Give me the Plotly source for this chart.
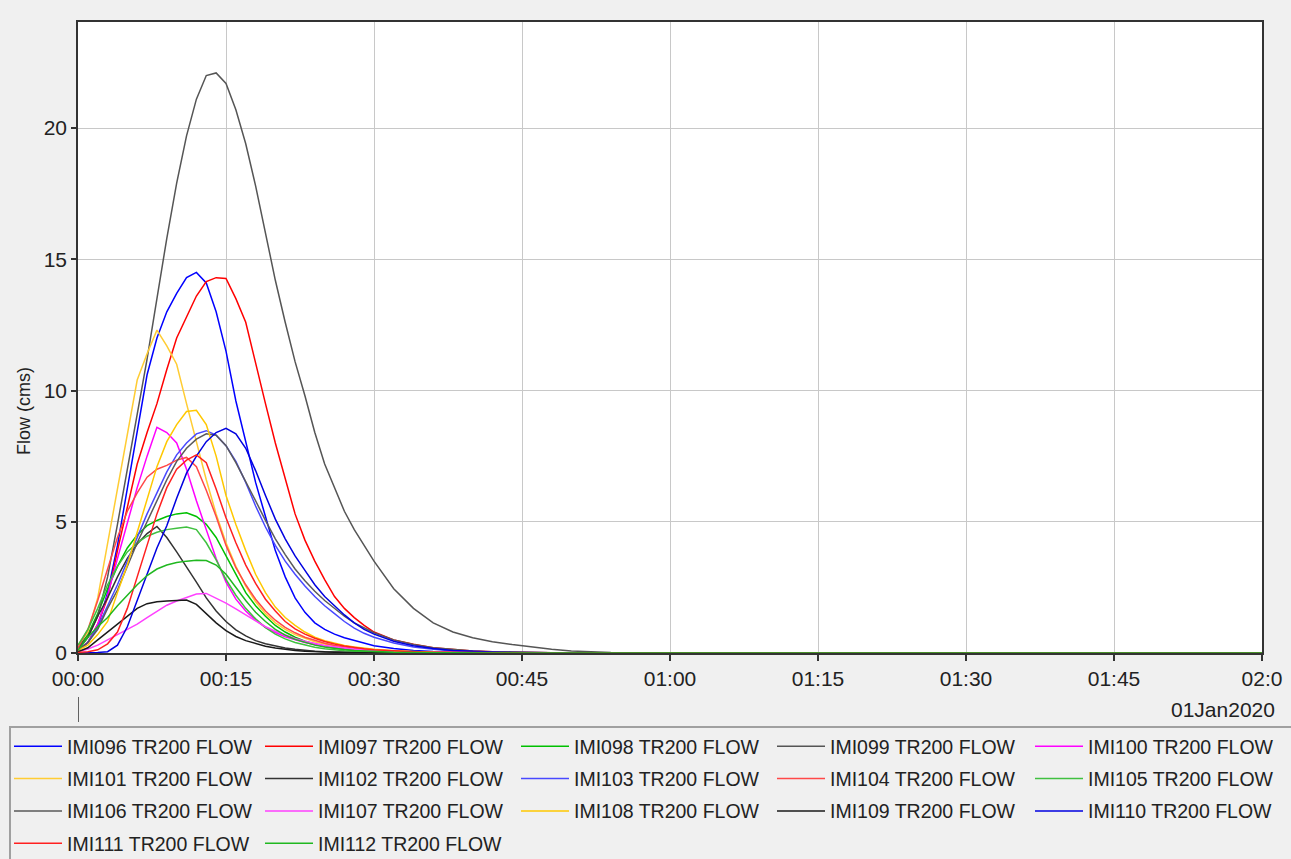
import plotly.graph_objects as go

# time in minutes after 00:00 on 01Jan2020
minutes = list(range(0, 31)) + list(range(32, 61, 2)) + [120]

tick_vals = [0, 15, 30, 45, 60, 75, 90, 105, 120]
tick_text = ["00:00", "00:15", "00:30", "00:45", "01:00", "01:15", "01:30", "01:45", "02:0"]

names = ["IMI096 TR200 FLOW", "IMI097 TR200 FLOW", "IMI098 TR200 FLOW", "IMI099 TR200 FLOW",
         "IMI100 TR200 FLOW", "IMI101 TR200 FLOW", "IMI102 TR200 FLOW", "IMI103 TR200 FLOW",
         "IMI104 TR200 FLOW", "IMI105 TR200 FLOW", "IMI106 TR200 FLOW", "IMI107 TR200 FLOW",
         "IMI108 TR200 FLOW", "IMI109 TR200 FLOW", "IMI110 TR200 FLOW", "IMI111 TR200 FLOW",
         "IMI112 TR200 FLOW"]

colors = ["#0000ff", "#ff0000", "#00c000", "#555555", "#ff00ff", "#ffcc33", "#333333", "#4848ff",
          "#ff4848", "#40c040", "#5a5a5a", "#ff40ff", "#ffc800", "#1a1a1a", "#0000e0", "#ff2020",
          "#20b820"]

imi096 = [0.1, 0.4, 1.0, 2.3, 4.1, 6.3, 8.5, 10.6, 12.0, 13.0, 13.7, 14.3, 14.5, 14.1, 13.0, 11.5,
          9.6, 8.0, 6.5, 5.2, 3.9, 2.9, 2.1, 1.55, 1.15, 0.9, 0.72, 0.58, 0.47, 0.37, 0.28,
          0.17, 0.1, 0.06, 0.04, 0.02, 0.01, 0, 0, 0, 0, 0, 0, 0, 0, 0, 0]
imi097 = [0.1, 0.4, 1.1, 2.1, 3.9, 5.6, 7.2, 8.4, 9.5, 10.8, 12.0, 12.8, 13.6, 14.15, 14.3, 14.27,
          13.5, 12.6, 11.0, 9.5, 8.0, 6.6, 5.3, 4.3, 3.5, 2.8, 2.15, 1.7, 1.35, 1.05, 0.8,
          0.5, 0.33, 0.2, 0.13, 0.08, 0.05, 0.03, 0.02, 0.01, 0, 0, 0, 0, 0, 0, 0]
imi098 = [0.2, 0.7, 1.5, 2.45, 3.3, 4.0, 4.5, 4.85, 5.05, 5.2, 5.3, 5.34, 5.2, 4.9, 4.4, 3.7,
          2.95, 2.3, 1.8, 1.4, 1.05, 0.8, 0.6, 0.45, 0.34, 0.25, 0.19, 0.14, 0.1, 0.08, 0.06,
          0.03, 0.02, 0.01, 0, 0, 0, 0, 0, 0, 0, 0, 0, 0, 0, 0, 0]
imi099 = [0.2, 0.6, 1.4, 2.9, 4.9, 7.0, 9.05, 11.2, 13.5, 15.8, 17.9, 19.7, 21.1, 22.0, 22.1, 21.7,
          20.7, 19.4, 17.8, 16.0, 14.2, 12.6, 11.1, 9.8, 8.4, 7.2, 6.3, 5.4, 4.7, 4.1, 3.5,
          2.45, 1.7, 1.15, 0.8, 0.58, 0.43, 0.32, 0.22, 0.14, 0.08, 0.04, 0.02, 0.01, 0, 0, 0]
imi100 = [0.1, 0.4, 1.1, 2.2, 3.6, 5.0, 6.3, 7.5, 8.6, 8.4, 8.0, 7.0, 5.8, 4.7, 3.6, 2.7,
          2.05, 1.6, 1.25, 0.98, 0.78, 0.62, 0.5, 0.4, 0.32, 0.26, 0.21, 0.17, 0.14, 0.11, 0.09,
          0.06, 0.04, 0.02, 0.01, 0, 0, 0, 0, 0, 0, 0, 0, 0, 0, 0, 0]
imi101 = [0.3, 0.8, 2.1, 4.2, 6.3, 8.4, 10.4, 11.4, 12.3, 11.7, 11.0, 9.5, 8.0, 6.6, 5.3, 4.2,
          3.3, 2.55, 1.95, 1.5, 1.15, 0.9, 0.7, 0.55, 0.43, 0.34, 0.27, 0.21, 0.17, 0.13, 0.1,
          0.06, 0.04, 0.02, 0.01, 0, 0, 0, 0, 0, 0, 0, 0, 0, 0, 0, 0]
imi102 = [0.1, 0.6, 1.4, 2.1, 2.9, 3.6, 4.15, 4.55, 4.82, 4.4, 3.85, 3.3, 2.7, 2.1, 1.6, 1.2,
          0.88, 0.65, 0.47, 0.35, 0.26, 0.19, 0.14, 0.1, 0.07, 0.05, 0.04, 0.03, 0.02, 0.01, 0.01,
          0, 0, 0, 0, 0, 0, 0, 0, 0, 0, 0, 0, 0, 0, 0, 0]
imi103 = [0.1, 0.4, 1.0, 1.8, 2.6, 3.5, 4.4, 5.3, 6.1, 6.9, 7.55, 8.0, 8.35, 8.47, 8.3, 7.9,
          7.3, 6.5, 5.6, 4.8, 4.1, 3.5, 3.0, 2.55, 2.15, 1.8, 1.5, 1.2, 0.95, 0.75, 0.6,
          0.38, 0.23, 0.14, 0.08, 0.05, 0.03, 0.02, 0.01, 0, 0, 0, 0, 0, 0, 0, 0]
imi104 = [0.2, 0.9, 2.0, 3.2, 4.4, 5.4, 6.1, 6.7, 7.0, 7.15, 7.35, 7.45, 7.1, 6.2, 5.2, 4.1,
          3.25, 2.6, 2.05, 1.6, 1.25, 0.98, 0.77, 0.6, 0.47, 0.37, 0.29, 0.23, 0.18, 0.14, 0.11,
          0.07, 0.04, 0.02, 0.01, 0, 0, 0, 0, 0, 0, 0, 0, 0, 0, 0, 0]
imi105 = [0.3, 0.9, 1.7, 2.6, 3.3, 3.85, 4.2, 4.45, 4.6, 4.7, 4.75, 4.8, 4.7, 4.2, 3.55, 2.8,
          2.2, 1.7, 1.3, 0.97, 0.72, 0.54, 0.4, 0.3, 0.22, 0.16, 0.12, 0.09, 0.07, 0.05, 0.04,
          0.02, 0.01, 0, 0, 0, 0, 0, 0, 0, 0, 0, 0, 0, 0, 0, 0]
imi106 = [0.1, 0.4, 0.9, 1.7, 2.4, 3.3, 4.2, 5.0, 5.8, 6.6, 7.3, 7.8, 8.15, 8.35, 8.3, 7.9,
          7.25, 6.55, 5.8, 5.05, 4.35, 3.75, 3.2, 2.75, 2.35, 2.0, 1.7, 1.4, 1.15, 0.95, 0.77,
          0.5, 0.32, 0.2, 0.13, 0.08, 0.05, 0.03, 0.02, 0.01, 0, 0, 0, 0, 0, 0, 0]
imi107 = [0.05, 0.15, 0.3, 0.5, 0.68, 0.88, 1.1, 1.35, 1.6, 1.82, 1.98, 2.12, 2.25, 2.27, 2.1, 1.9,
          1.68, 1.45, 1.22, 1.0, 0.83, 0.68, 0.55, 0.45, 0.36, 0.29, 0.24, 0.19, 0.15, 0.12, 0.1,
          0.07, 0.05, 0.03, 0.02, 0.01, 0, 0, 0, 0, 0, 0, 0, 0, 0, 0, 0]
imi108 = [0.1, 0.3, 0.7, 1.2, 2.3, 3.35, 4.6, 5.9, 7.1, 8.05, 8.7, 9.2, 9.25, 8.7, 7.5, 6.0,
          4.9, 3.9, 3.0, 2.3, 1.75, 1.35, 1.05, 0.8, 0.6, 0.47, 0.37, 0.29, 0.23, 0.18, 0.14,
          0.09, 0.05, 0.03, 0.02, 0.01, 0, 0, 0, 0, 0, 0, 0, 0, 0, 0, 0]
imi109 = [0.05, 0.2, 0.5, 0.8, 1.1, 1.4, 1.7, 1.88, 1.95, 1.98, 2.0, 2.02, 1.85, 1.5, 1.15, 0.85,
          0.63, 0.47, 0.35, 0.26, 0.19, 0.14, 0.1, 0.07, 0.05, 0.04, 0.03, 0.02, 0.01, 0.01, 0,
          0, 0, 0, 0, 0, 0, 0, 0, 0, 0, 0, 0, 0, 0, 0, 0]
imi110 = [0, 0, 0.02, 0.05, 0.3, 1.0, 2.0, 3.0, 4.0, 4.85, 5.9, 6.85, 7.5, 8.05, 8.4, 8.56,
          8.35, 7.8, 6.95, 6.0, 5.1, 4.35, 3.7, 3.15, 2.6, 2.15, 1.8, 1.45, 1.15, 0.9, 0.72,
          0.45, 0.28, 0.17, 0.1, 0.06, 0.04, 0.02, 0.01, 0, 0, 0, 0, 0, 0, 0, 0]
imi111 = [0.02, 0.05, 0.12, 0.35, 0.8, 1.7, 2.9, 4.1, 5.3, 6.3, 7.0, 7.35, 7.55, 7.25, 6.25, 5.15,
          4.2, 3.35, 2.65, 2.05, 1.6, 1.2, 0.92, 0.72, 0.56, 0.44, 0.34, 0.27, 0.21, 0.16, 0.12,
          0.08, 0.05, 0.03, 0.02, 0.01, 0, 0, 0, 0, 0, 0, 0, 0, 0, 0, 0]
imi112 = [0.1, 0.6, 1.0, 1.35, 1.8, 2.2, 2.6, 2.95, 3.2, 3.35, 3.45, 3.5, 3.53, 3.52, 3.35, 3.0,
          2.5, 2.0, 1.55, 1.2, 0.9, 0.68, 0.52, 0.4, 0.3, 0.23, 0.17, 0.13, 0.1, 0.08, 0.06,
          0.03, 0.02, 0.01, 0, 0, 0, 0, 0, 0, 0, 0, 0, 0, 0, 0, 0]

series = [imi096, imi097, imi098, imi099, imi100, imi101, imi102, imi103, imi104, imi105,
          imi106, imi107, imi108, imi109, imi110, imi111, imi112]

FONT = "Liberation Sans, Arial, sans-serif"
TXT = "#222222"
W, H = 1291, 859
L, R, T, B = 78, 29, 22, 206
pw, ph = W - L - R, H - T - B

def px_to_xpaper(px):
    return (px - L) / pw

def py_to_ypaper(py):
    return (H - B - py) / ph

# legend columns (5 columns, filled row by row)
n_cols = 5
legend_ids = ["legend", "legend2", "legend3", "legend4", "legend5"]
col_line_start = [14, 265, 521, 777, 1035]

fig = go.Figure()
for i, (name, col, vals) in enumerate(zip(names, colors, series)):
    fig.add_trace(go.Scatter(x=minutes, y=vals, mode="lines", name=name,
                             legend=legend_ids[i % n_cols], legendgroup=name,
                             line=dict(color=col, width=1.5)))

legend_style = dict(
    orientation="v", xref="container", yref="container",
    xanchor="left", yanchor="top",
    bgcolor="rgba(0,0,0,0)", borderwidth=0,
    itemwidth=48, tracegroupgap=4,
    traceorder="grouped",
    font=dict(family=FONT, size=19.5, color=TXT),
)
legends = {}
for lid, xs in zip(legend_ids, col_line_start):
    legends[lid] = dict(legend_style, x=(xs - 5) / W, y=1 - 727 / H)

fig.update_layout(
    width=W, height=H,
    margin=dict(l=L, r=R, t=T, b=B, autoexpand=False),
    paper_bgcolor="#f0f0f0",
    plot_bgcolor="#ffffff",
    font=dict(family=FONT, size=19, color=TXT),
    showlegend=True,
    xaxis=dict(
        range=[0, 120],
        tickmode="array", tickvals=tick_vals, ticktext=tick_text,
        showgrid=True, gridcolor="#c8c8c8", gridwidth=1,
        showline=True, linecolor="#333333", linewidth=1.5, mirror=True,
        ticks="outside", ticklen=6, tickcolor="#333333", tickwidth=1.5,
        tickfont=dict(family=FONT, size=21, color=TXT),
        zeroline=False, fixedrange=True, automargin=False,
    ),
    yaxis=dict(
        range=[0, 24.04],
        tickvals=[0, 5, 10, 15, 20],
        showgrid=True, gridcolor="#c8c8c8", gridwidth=1,
        showline=True, linecolor="#333333", linewidth=1.5, mirror=True,
        ticks="outside", ticklen=5, tickcolor="#333333", tickwidth=1.5,
        tickfont=dict(family=FONT, size=21, color=TXT),
        zeroline=False, fixedrange=True, automargin=False,
    ),
    annotations=[
        dict(text="01Jan2020", xref="paper", yref="paper",
             x=px_to_xpaper(1277), y=py_to_ypaper(709), xanchor="right", yanchor="middle",
             showarrow=False, font=dict(family=FONT, size=21, color=TXT)),
        dict(text="Flow (cms)", xref="paper", yref="paper", textangle=-90,
             x=px_to_xpaper(24), y=py_to_ypaper(411), xanchor="center", yanchor="middle",
             showarrow=False, font=dict(family=FONT, size=18, color=TXT)),
    ],
    shapes=[
        dict(type="line", xref="x", yref="paper", x0=0, x1=0,
             y0=py_to_ypaper(697), y1=py_to_ypaper(722),
             line=dict(color="#333333", width=1.5)),
        dict(type="rect", xref="paper", yref="paper",
             x0=px_to_xpaper(10), x1=px_to_xpaper(1292),
             y0=py_to_ypaper(727), y1=py_to_ypaper(862),
             line=dict(color="#a0a0a0", width=2), fillcolor="rgba(0,0,0,0)"),
    ],
    **legends,
)

fig.write_html("out.html", config={"displayModeBar": False},
               post_script="document.body.style.margin='0';")
